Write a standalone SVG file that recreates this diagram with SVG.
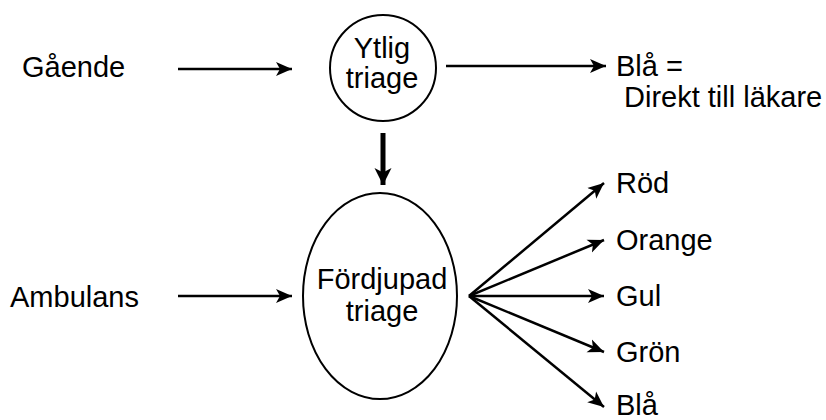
<svg xmlns="http://www.w3.org/2000/svg" width="826" height="420" viewBox="0 0 826 420">
  <style>
    text { font-family: "Liberation Sans", Arial, sans-serif; font-size: 29px; fill: #000; }
    .mid { text-anchor: middle; }
    .node { fill: #fff; stroke: #000; stroke-width: 2; }
    .edge { fill: none; stroke: #000; stroke-width: 2.5; }
    .edge-bold { fill: none; stroke: #000; stroke-width: 5; }
  </style>
  <defs>
    <marker id="arrow" markerUnits="userSpaceOnUse" markerWidth="18" markerHeight="16" refX="16" refY="8" orient="auto" viewBox="0 0 18 16">
      <path d="M0 1 L16 8 L0 15 L4 8 Z" fill="#000"/>
    </marker>
    <marker id="arrow-bold" markerUnits="userSpaceOnUse" markerWidth="20" markerHeight="20" refX="17" refY="9" orient="auto" viewBox="0 0 20 20">
      <path d="M0 0.5 L17 9 L0 17.5 L4.5 9 Z" fill="#000"/>
    </marker>
  </defs>

  <!-- inputs -->
  <g id="gaende">
    <text x="22" y="77">Gående</text>
  </g>
  <g id="ambulans">
    <text x="10" y="307">Ambulans</text>
  </g>

  <!-- triage stages -->
  <g id="ytlig-triage">
    <ellipse class="node" cx="383" cy="68" rx="53" ry="53"/>
    <text class="mid" x="382" y="58">Ytlig</text>
    <text class="mid" x="382" y="88">triage</text>
  </g>
  <g id="fordjupad-triage">
    <ellipse class="node" cx="380" cy="296" rx="77" ry="103"/>
    <text class="mid" x="382" y="289">Fördjupad</text>
    <text class="mid" x="382" y="321">triage</text>
  </g>

  <!-- outcomes -->
  <g id="bla-direkt">
    <text x="616" y="76">Blå =</text>
    <text x="624" y="107">Direkt till läkare</text>
  </g>
  <g id="rod"><text x="616" y="193">Röd</text></g>
  <g id="orange"><text x="616" y="250">Orange</text></g>
  <g id="gul"><text x="616" y="306">Gul</text></g>
  <g id="gron"><text x="616" y="362">Grön</text></g>
  <g id="bla"><text x="616" y="415">Blå</text></g>

  <!-- connectors -->
  <g id="connectors">
    <line class="edge" x1="178" y1="69" x2="292" y2="69" marker-end="url(#arrow)"/>
    <line class="edge" x1="178" y1="296" x2="292" y2="296" marker-end="url(#arrow)"/>
    <line class="edge" x1="446" y1="66" x2="606" y2="66" marker-end="url(#arrow)"/>
    <line class="edge-bold" x1="383" y1="133" x2="383" y2="185" marker-end="url(#arrow-bold)"/>
    <line class="edge" x1="469" y1="296" x2="604" y2="183" marker-end="url(#arrow)"/>
    <line class="edge" x1="469" y1="296" x2="604" y2="240" marker-end="url(#arrow)"/>
    <line class="edge" x1="469" y1="296" x2="604" y2="296" marker-end="url(#arrow)"/>
    <line class="edge" x1="469" y1="296" x2="604" y2="352" marker-end="url(#arrow)"/>
    <line class="edge" x1="469" y1="296" x2="604" y2="407" marker-end="url(#arrow)"/>
  </g>
</svg>
